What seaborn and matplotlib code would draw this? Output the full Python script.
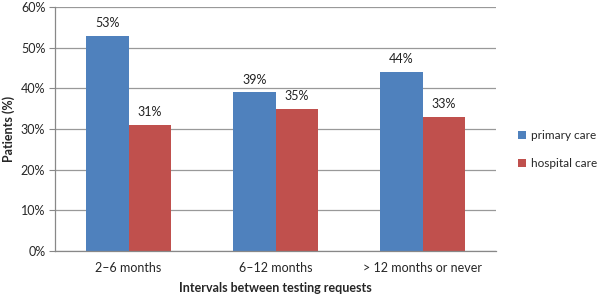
import pandas as pd
import matplotlib.pyplot as plt
import seaborn as sns

# data
intervals = ['2\u20136 months', '6\u201312 months', '> 12 months or never']
primary_care = [53, 39, 44]
hospital_care = [31, 35, 33]
series = ['primary care', 'hospital care']

df = pd.DataFrame({
    'interval': intervals * 2,
    'setting': [series[0]] * 3 + [series[1]] * 3,
    'pct': primary_care + hospital_care,
})

sns.set_style('white')
plt.rcParams['font.family'] = ['Lato', 'DejaVu Sans']

fig = plt.figure(figsize=(6.07, 2.98), dpi=100)
ax = fig.add_axes([0.0906, 0.158, 0.727, 0.818])

sns.barplot(data=df, x='interval', y='pct', hue='setting', order=intervals,
            hue_order=series, palette=['#4F81BD', '#C0504D'], width=0.58,
            saturation=1, linewidth=0, ax=ax, legend=True)

for cont in ax.containers:
    ax.bar_label(cont, labels=[f'{int(v)}%' for v in cont.datavalues],
                 padding=5, fontsize=9, color='#222222')

ax.set_ylim(0, 60)
ax.set_yticks(range(0, 61, 10))
ax.set_yticklabels([f'{v}%' for v in range(0, 61, 10)], fontsize=9)
ax.tick_params(axis='x', labelsize=9, length=0, pad=8)
ax.tick_params(axis='y', length=4, color='#888888', left=True, pad=3)
ax.yaxis.grid(True, color='#999999', linewidth=0.9)
ax.set_axisbelow(True)
for s in ['top', 'right']:
    ax.spines[s].set_visible(False)
for s in ['left', 'bottom']:
    ax.spines[s].set_color('#888888')
    ax.spines[s].set_linewidth(0.9)

ax.set_xlabel('Intervals between testing requests', fontsize=9, weight='bold', labelpad=6)
ax.set_ylabel('Patients (%)', fontsize=9, weight='bold', labelpad=4)

handles, labels = ax.get_legend_handles_labels()
ax.legend(handles, labels, loc='center left', bbox_to_anchor=(1.025, 0.415),
          frameon=False, fontsize=8.5, handlelength=0.7, handleheight=0.7,
          handletextpad=0.4, labelspacing=1.4)

fig.savefig('out.png', dpi=100)
